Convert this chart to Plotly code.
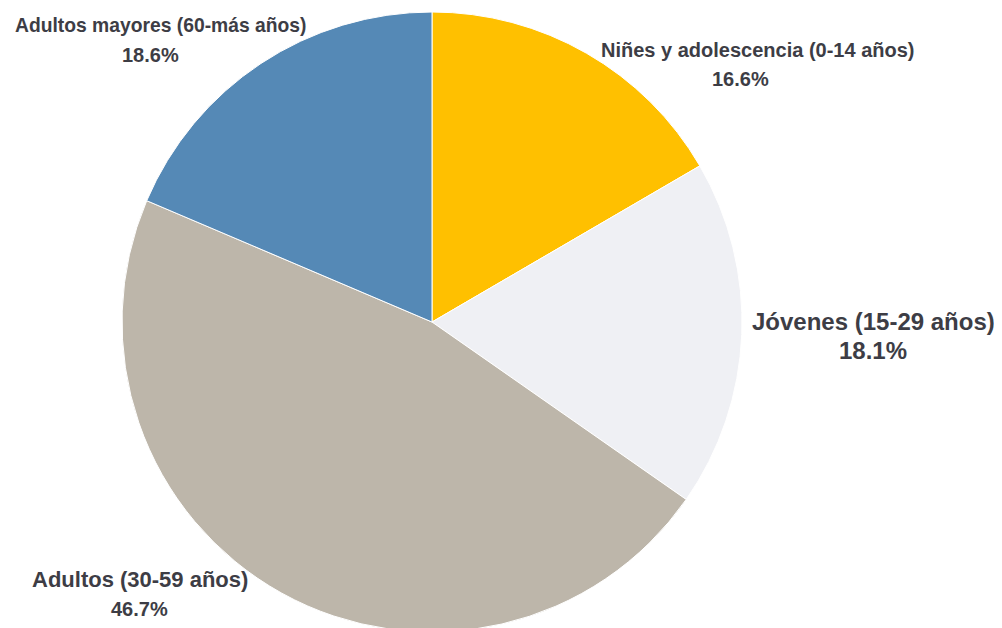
import plotly.graph_objects as go

categories = ["Niñes y adolescencia (0-14 años)", "Jóvenes (15-29 años)",
              "Adultos (30-59 años)", "Adultos mayores (60-más años)"]
values = [16.6, 18.1, 46.7, 18.6]
pct_labels = ["16.6%", "18.1%", "46.7%", "18.6%"]
colors = ["#FFC000", "#EFF0F4", "#BDB6AA", "#5589B6"]

W, H = 1002, 628
OFF = 8  # page body margin
cx, r = 432 - OFF, 310
fig = go.Figure(go.Pie(
    labels=categories, values=values, sort=False, direction="clockwise",
    rotation=0, textinfo="none", hoverinfo="label+percent",
    marker=dict(colors=colors, line=dict(color="white", width=1)),
    domain=dict(x=[(cx - r) / W, (cx + r) / W], y=[0, 1]),
    showlegend=False,
))

# label positions (screen pixels: center x/y of line 1, line 2), font sizes
label_pos = [
    (757, 46, 740, 76, 20, 20),
    (873, 321, 873, 351, 24, 24),
    (140, 583, 139, 613, 22, 20),
    (160, 22, 150, 52, 19.3, 20),
]
ann = []
for cat, pct, (x1, y1, x2, y2, fs1, fs2) in zip(categories, pct_labels, label_pos):
    for txt, x, y, fs in ((cat, x1, y1, fs1), (pct, x2, y2, fs2)):
        ann.append(dict(text="<b>%s</b>" % txt, x=(x - OFF) / W, y=1 - (y - OFF) / H,
                        xref="paper", yref="paper",
                        xanchor="center", yanchor="middle", showarrow=False,
                        font=dict(family="Liberation Sans, Arial, sans-serif", size=fs, color="#3d3d45")))

fig.update_layout(width=W, height=H, margin=dict(l=0, r=0, t=4, b=4),
                  paper_bgcolor="white", plot_bgcolor="white", annotations=ann)
fig.write_html("out.html")
